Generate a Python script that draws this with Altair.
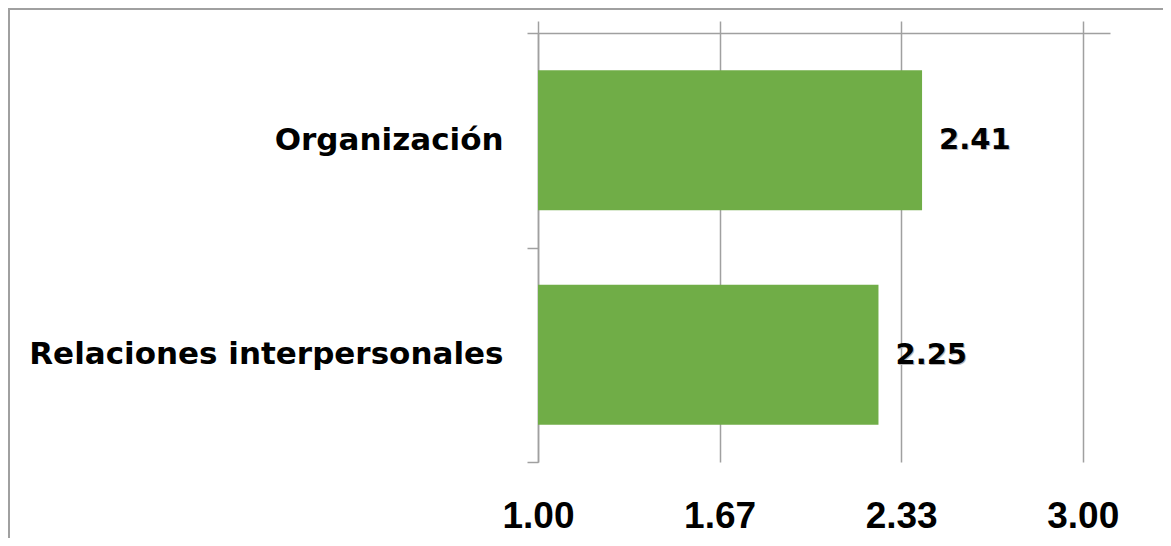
import altair as alt
import pandas as pd

categories = ["Organización", "Relaciones interpersonales"]
values = [2.41, 2.25]
tick_values = [1.0, 1.6667, 2.3333, 3.0]

df = pd.DataFrame({"cat": categories, "val": values})
df["label"] = df["val"].map(lambda v: f"{v:.2f}")

W, H = 572, 429
GRAY = "#a0a0a0"
xscale = alt.Scale(domain=[1, 3.1], nice=False, zero=False)
yscale = alt.Scale(paddingInner=0, paddingOuter=0)

yaxis = alt.Axis(title=None, domain=True, domainColor=GRAY, domainWidth=1.5,
                 ticks=True, tickSize=11, tickColor=GRAY, tickWidth=1.5,
                 tickBand="extent", grid=False, labelLimit=600,
                 labelFont="DejaVu Sans", labelFontWeight="bold",
                 labelFontSize=31, labelColor="black", labelPadding=24)

base = alt.Chart(df)

bars = base.mark_bar(color="#70ad47", size=140).encode(
    x=alt.X("val:Q", scale=xscale,
            axis=alt.Axis(orient="top", values=tick_values, labels=False,
                          ticks=True, tickSize=12, tickColor=GRAY, tickWidth=1.5,
                          domain=True, domainColor=GRAY, domainWidth=1.5,
                          grid=True, gridColor=GRAY, gridWidth=1.5, title=None)),
    x2=alt.datum(1),
    y=alt.Y("cat:N", sort=categories, scale=yscale, axis=yaxis),
)

shadow = base.mark_text(align="left", baseline="middle", dx=18, dy=1,
                        font="DejaVu Sans", fontWeight="bold", fontSize=29,
                        color="#b8b8b8").encode(
    x=alt.X("val:Q", scale=xscale, axis=None),
    y=alt.Y("cat:N", sort=categories, scale=yscale, axis=yaxis),
    text="label:N",
)

labels = base.mark_text(align="left", baseline="middle", dx=17,
                        font="DejaVu Sans", fontWeight="bold", fontSize=29,
                        color="black").encode(
    x=alt.X("val:Q", scale=xscale,
            axis=alt.Axis(orient="bottom", values=tick_values, format=".2f",
                          labels=True, ticks=False, domain=False, grid=False,
                          labelFlush=False,
                          labelFont="Liberation Sans",
                          labelFontWeight="bold", labelFontSize=37,
                          labelColor="black", labelPadding=36, title=None)),
    y=alt.Y("cat:N", sort=categories, scale=yscale, axis=yaxis),
    text="label:N",
)

one = alt.Chart(pd.DataFrame({"a": [0]}))
border_top = one.mark_rule(color=GRAY, strokeWidth=2).encode(
    x=alt.value(-530), x2=alt.value(640), y=alt.value(-24))
border_left = one.mark_rule(color=GRAY, strokeWidth=2).encode(
    x=alt.value(-529), y=alt.value(-25), y2=alt.value(520))

chart = alt.layer(bars, shadow, labels, border_top, border_left).resolve_axis(
    x="independent"
).properties(
    width=W, height=H,
    autosize=alt.AutoSizeParams(type="none"),
    padding={"left": 530, "top": 25, "right": 53, "bottom": 76},
).configure_view(stroke=None)

chart.save("out.html", embed_options={"renderer": "svg", "actions": False})
